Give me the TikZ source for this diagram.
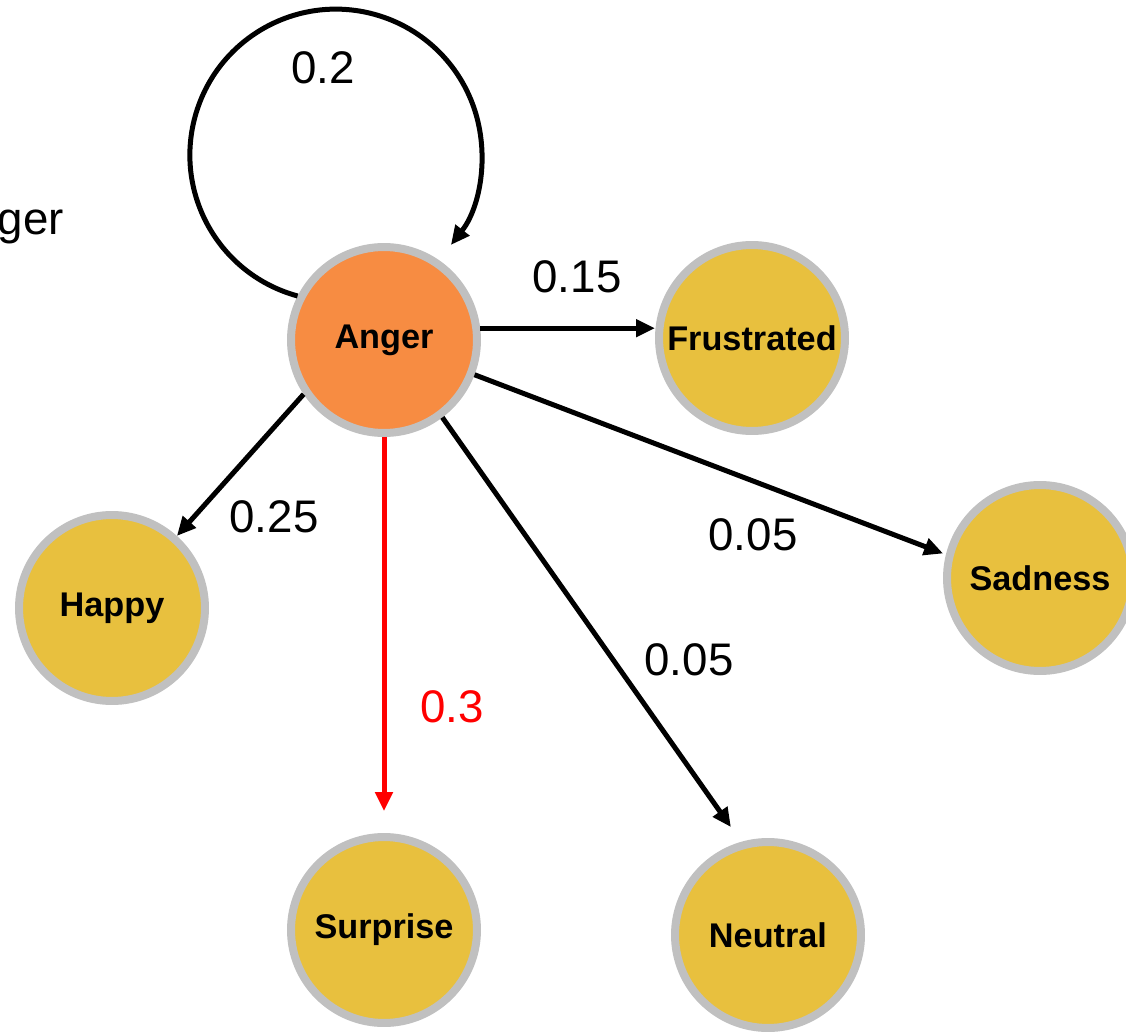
\documentclass[tikz,border=0pt]{standalone}
\usepackage{fontspec}
\setmainfont{Liberation Sans}
\usetikzlibrary{arrows.meta}
\definecolor{angerfill}{RGB}{247,140,66}
\definecolor{emofill}{RGB}{232,192,62}
\definecolor{ringgray}{RGB}{192,192,192}
\begin{document}
\begin{tikzpicture}[x=0.02cm,y=-0.02cm,
  emo/.style={circle, draw=ringgray, line width=0.16cm, fill=emofill, minimum size=3.72cm, inner sep=0pt, font=\fontsize{19.5}{22}\selectfont\bfseries},
  edge/.style={line width=0.1cm, -{Triangle[length=0.38cm,width=0.34cm]}},
  lbl/.style={font=\fontsize{26}{30}\selectfont, inner sep=0pt}]
\useasboundingbox (0,0) rectangle (1126,1034);
\clip (0,0) rectangle (1126,1034);
\fill[white] (0,0) rectangle (1126,1034);

\node[emo, fill=angerfill] (anger) at (384,340) {Anger};
\node[emo] (frus) at (752,338) {Frustrated};
\node[emo] (happy) at (112,608) {Happy};
\node[emo] (sad) at (1040,578) {Sadness};
\node[emo] (surp) at (384,930) {Surprise};
\node[emo] (neut) at (768,935) {Neutral};

\draw[edge] (anger.153) arc[start angle=254.8, end angle=-38, radius=2.92cm];
\draw[edge] (anger.7) -- (anger.7 -| frus.west);
\draw[edge, shorten >=0.06cm] (anger.-21) -- (sad.166);
\draw[edge, shorten >=0.36cm] (anger.-53.5) -- (neut.106.7);
\draw[edge, red, shorten >=0.44cm] (anger.south) -- (surp.north);
\draw[edge] (anger.214.8) -- (happy.48);

\node[lbl] (l02) at (323,68) {0.2};
\node[lbl] (l015) at (577,277) {0.15};
\node[lbl] (l005a) at (753,535) {0.05};
\node[lbl] (l025) at (274,517) {0.25};
\node[lbl] (l005b) at (689,660) {0.05};
\node[lbl, text=red] (l03) at (452,707) {0.3};
\node[lbl, anchor=base east] (cut) at (64,234) {Anger};
\end{tikzpicture}
\end{document}
